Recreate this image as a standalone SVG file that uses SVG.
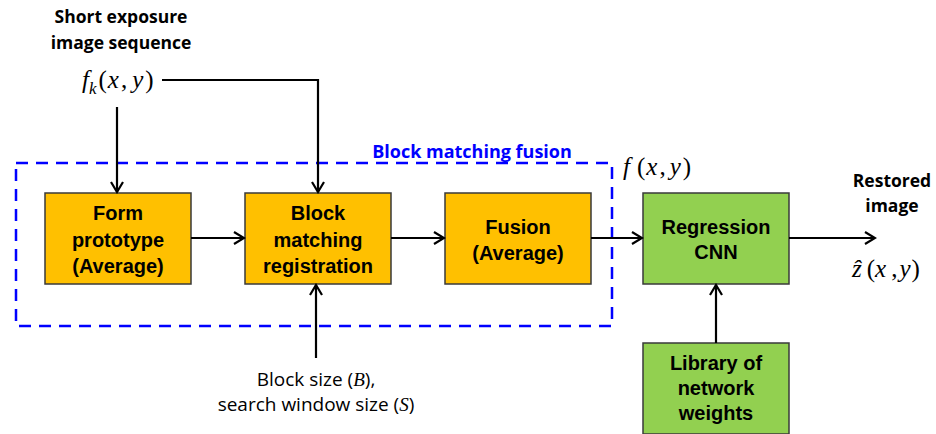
<svg xmlns="http://www.w3.org/2000/svg" width="936" height="434" viewBox="0 0 936 434">
<defs>
<marker id="arr" markerWidth="14" markerHeight="14" refX="12" refY="7" orient="auto" markerUnits="userSpaceOnUse">
<polyline points="2,1 12,7 2,13" fill="none" stroke="#000" stroke-width="2.2"/>
</marker>
<style>
.box{stroke:#3a3a3a;stroke-width:1.5}
.or{fill:#FFC000}
.gr{fill:#92D050}
.bt{font-family:"Liberation Sans",Arial,sans-serif;font-weight:bold;font-size:20px;text-anchor:middle;fill:#000}
.lbl{font-family:"Open Sans","Noto Sans",sans-serif;font-weight:bold;font-size:17.5px;text-anchor:middle;fill:#000}
.math{font-family:"Liberation Serif","Times New Roman",serif;font-style:italic;font-size:25px;fill:#000}
.norm{font-family:"Open Sans","Noto Sans",sans-serif;font-size:19px;text-anchor:middle;fill:#000}
.conn{stroke:#000;stroke-width:2.2;fill:none}
</style>
</defs>
<rect x="0" y="0" width="936" height="434" fill="#fff"/>
<g id="fusion-group">
<rect x="16" y="163" width="596" height="163" fill="none" stroke="#0000FF" stroke-width="2.5" stroke-dasharray="12,8"/>
<text x="472" y="158" font-family="Open Sans,Noto Sans,sans-serif" font-weight="bold" font-size="18" fill="#0000FF" text-anchor="middle">Block matching fusion</text>
</g>
<g id="input-label">
<text class="lbl" x="121" y="23">Short exposure</text>
<text class="lbl" x="121" y="49">image sequence</text>
<text class="math" x="82" y="88">f<tspan font-size="17" dy="6">k</tspan><tspan dy="-6" font-style="normal" dx="2">(</tspan><tspan dx="1">x</tspan><tspan font-style="normal" dx="2">,</tspan><tspan dx="5">y</tspan><tspan font-style="normal" dx="2">)</tspan></text>
</g>
<g id="form-prototype">
<rect class="box or" x="45" y="193" width="146" height="91"/>
<text class="bt" x="118" y="220">Form</text>
<text class="bt" x="118" y="247">prototype</text>
<text class="bt" x="118" y="273">(Average)</text>
</g>
<g id="block-matching">
<rect class="box or" x="245" y="193" width="146" height="91"/>
<text class="bt" x="318" y="220">Block</text>
<text class="bt" x="318" y="247">matching</text>
<text class="bt" x="318" y="273">registration</text>
</g>
<g id="fusion">
<rect class="box or" x="445" y="193" width="146" height="91"/>
<text class="bt" x="518" y="234">Fusion</text>
<text class="bt" x="518" y="260">(Average)</text>
</g>
<g id="fxy-label">
<text class="math" x="623" y="175">f<tspan font-style="normal" dx="7">(</tspan><tspan dx="1">x</tspan><tspan font-style="normal" dx="2">,</tspan><tspan dx="4">y</tspan><tspan font-style="normal" dx="2">)</tspan></text>
</g>
<g id="regression-cnn">
<rect class="box gr" x="643" y="193" width="146" height="91"/>
<text class="bt" x="716" y="234">Regression</text>
<text class="bt" x="716" y="259">CNN</text>
</g>
<g id="library">
<rect class="box gr" x="643" y="343" width="146" height="91"/>
<text class="bt" x="716" y="370">Library of</text>
<text class="bt" x="716" y="395">network</text>
<text class="bt" x="716" y="420">weights</text>
</g>
<g id="output-label">
<text class="lbl" x="892" y="187">Restored</text>
<text class="lbl" x="892" y="212">image</text>
<text class="math" x="852" y="277">ẑ<tspan font-style="normal" dx="5">(</tspan>x<tspan font-style="normal" dx="5">,</tspan><tspan dx="2">y</tspan><tspan font-style="normal" dx="1">)</tspan></text>
</g>
<g id="param-label">
<text class="norm" x="316" y="386">Block size (<tspan font-family="Liberation Serif,serif" font-style="italic">B</tspan>),</text>
<text class="norm" x="316" y="411">search window size (<tspan font-family="Liberation Serif,serif" font-style="italic">S</tspan>)</text>
</g>
<g id="connectors">
<line class="conn" x1="117" y1="107" x2="117" y2="192" marker-end="url(#arr)"/>
<polyline class="conn" points="162,80 318,80 318,192" marker-end="url(#arr)"/>
<line class="conn" x1="191" y1="238" x2="244" y2="238" marker-end="url(#arr)"/>
<line class="conn" x1="391" y1="238" x2="444" y2="238" marker-end="url(#arr)"/>
<line class="conn" x1="591" y1="238" x2="642" y2="238" marker-end="url(#arr)"/>
<line class="conn" x1="789" y1="238" x2="875" y2="238" marker-end="url(#arr)"/>
<line class="conn" x1="316" y1="358" x2="316" y2="285" marker-end="url(#arr)"/>
<line class="conn" x1="716" y1="343" x2="716" y2="285" marker-end="url(#arr)"/>
</g>
</svg>
